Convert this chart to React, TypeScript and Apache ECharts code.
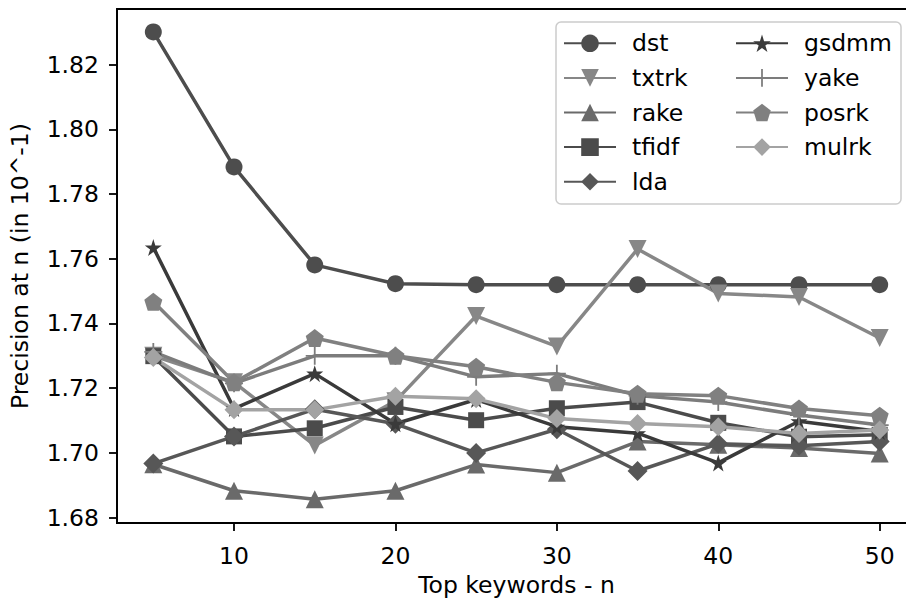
import React, { useEffect, useRef } from "react";
import * as echarts from "echarts";

const xValues = [5, 10, 15, 20, 25, 30, 35, 40, 45, 50];
const xTicks = [10, 20, 30, 40, 50];
const yTicks = [1.68, 1.7, 1.72, 1.74, 1.76, 1.78, 1.8, 1.82];

const dst = [1.8301, 1.7884, 1.7581, 1.7523, 1.752, 1.752, 1.752, 1.752, 1.752, 1.752];
const txtrk = [1.73, 1.7218, 1.7023, 1.716, 1.7423, 1.7329, 1.763, 1.7493, 1.7482, 1.7355];
const rake = [1.6965, 1.6883, 1.6857, 1.6883, 1.6964, 1.6939, 1.7035, 1.7025, 1.7015, 1.6998];
const tfidf = [1.7299, 1.7051, 1.7076, 1.7142, 1.7101, 1.7138, 1.7157, 1.7093, 1.705, 1.7056];
const lda = [1.6967, 1.7051, 1.7135, 1.709, 1.7, 1.7073, 1.6944, 1.7028, 1.7022, 1.7035];
const gsdmm = [1.7635, 1.7137, 1.7245, 1.709, 1.7165, 1.7081, 1.7061, 1.6969, 1.7098, 1.7066];
const yake = [1.7312, 1.7215, 1.73, 1.73, 1.7235, 1.7245, 1.7177, 1.7157, 1.7117, 1.7086];
const posrk = [1.7467, 1.7218, 1.7355, 1.73, 1.7266, 1.7218, 1.7183, 1.7177, 1.7137, 1.7115];
const mulrk = [1.7295, 1.7133, 1.7133, 1.7175, 1.7167, 1.7106, 1.7091, 1.7081, 1.706, 1.7071];

const FONT = "DejaVu Sans";
const STAR =
  "path://M0,-1L0.2245,-0.309L0.951,-0.309L0.363,0.118L0.588,0.809L0,0.382L-0.588,0.809L-0.363,0.118L-0.951,-0.309L-0.2245,-0.309Z";
const PENTAGON = "path://M0,-1L0.951,-0.309L0.588,0.809L-0.588,0.809L-0.951,-0.309Z";
const PLUS = "path://M-0.1,-1H0.1V-0.1H1V0.1H0.1V1H-0.1V0.1H-1V-0.1H-0.1Z";

type Def = {
  name: string;
  values: number[];
  color: string;
  symbol: string;
  size: number;
  rotate?: number;
};

const defs: Def[] = [
  { name: "dst", values: dst, color: "#4d4d4d", symbol: "circle", size: 17 },
  { name: "txtrk", values: txtrk, color: "#878787", symbol: "triangle", size: 18, rotate: 180 },
  { name: "rake", values: rake, color: "#6a6a6a", symbol: "triangle", size: 18 },
  { name: "tfidf", values: tfidf, color: "#4b4b4b", symbol: "rect", size: 16 },
  { name: "lda", values: lda, color: "#575757", symbol: "diamond", size: 20 },
  { name: "gsdmm", values: gsdmm, color: "#3a3a3a", symbol: STAR, size: 17 },
  { name: "yake", values: yake, color: "#7c7c7c", symbol: PLUS, size: 18 },
  { name: "posrk", values: posrk, color: "#808080", symbol: PENTAGON, size: 18 },
  { name: "mulrk", values: mulrk, color: "#a3a3a3", symbol: "diamond", size: 19 },
];

export default function App() {
  const ref = useRef<HTMLDivElement>(null);
  useEffect(() => {
    document.body.style.margin = "0";
    if (!ref.current) return;
    const chart = echarts.init(ref.current, null, { renderer: "svg" });
    const legendCommon = {
      orient: "vertical",
      itemWidth: 52,
      itemHeight: 22,
      itemGap: 10.6,
      top: 31.3,
      padding: 0,
      z: 10,
      textStyle: {
        fontFamily: FONT,
        fontSize: 23.5,
        color: "#000",
        lineHeight: 24,
        padding: [0, 0, 0, 11],
      },
    };
    chart.setOption({
      animation: false,
      backgroundColor: "#fff",
      grid: {
        left: 113,
        top: 9,
        bottom: 72,
        right: 14,
        show: true,
        borderColor: "#000",
        borderWidth: 1.8,
        backgroundColor: "transparent",
      },
      legend: [
        { ...legendCommon, left: 563, data: ["dst", "txtrk", "rake", "tfidf", "lda"] },
        { ...legendCommon, left: 735, data: ["gsdmm", "yake", "posrk", "mulrk"] },
      ],
      graphic: [
        {
          type: "rect",
          z: 5,
          shape: { x: 556, y: 22, width: 345, height: 182, r: 5 },
          style: { fill: "rgba(255,255,255,0.8)", stroke: "#cccccc", lineWidth: 1.5 },
        },
      ],
      xAxis: {
        type: "value",
        min: 2.75,
        max: 52.25,
        name: "Top keywords - n",
        nameLocation: "middle",
        nameGap: 49,
        nameTextStyle: { fontFamily: FONT, fontSize: 23.5, color: "#000" },
        axisLine: { show: true, lineStyle: { color: "#000", width: 1.8 } },
        axisTick: { show: true, length: 8, lineStyle: { color: "#000", width: 1.8 }, customValues: xTicks },
        axisLabel: {
          fontFamily: FONT,
          fontSize: 23.5,
          color: "#000",
          margin: 21,
          customValues: xTicks,
        },
        splitLine: { show: false },
      },
      yAxis: {
        type: "value",
        min: 1.6783,
        max: 1.8372,
        name: "Precision at n (in 10^-1)",
        nameLocation: "middle",
        nameGap: 85,
        nameTextStyle: { fontFamily: FONT, fontSize: 23.5, color: "#000" },
        axisLine: { show: true, lineStyle: { color: "#000", width: 1.8 } },
        axisTick: { show: true, length: 8, lineStyle: { color: "#000", width: 1.8 }, customValues: yTicks },
        axisLabel: {
          fontFamily: FONT,
          fontSize: 23.5,
          color: "#000",
          margin: 18,
          customValues: yTicks,
          formatter: (v: number) => v.toFixed(2),
        },
        splitLine: { show: false },
      },
      series: defs.map((d) => ({
        name: d.name,
        type: "line",
        data: xValues.map((x, i) => [x, d.values[i]]),
        symbol: d.symbol,
        symbolSize: d.size,
        symbolRotate: d.rotate || 0,
        showAllSymbol: true,
        lineStyle: { color: d.color, width: 3.5 },
        itemStyle: { color: d.color, opacity: 1 },
        emphasis: { disabled: true },
      })),
    });
    return () => chart.dispose();
  }, []);
  return (
    <div style={{ width: 906, height: 602, overflow: "hidden", position: "relative" }}>
      <div ref={ref} style={{ width: 930, height: 602 }} />
    </div>
  );
}
